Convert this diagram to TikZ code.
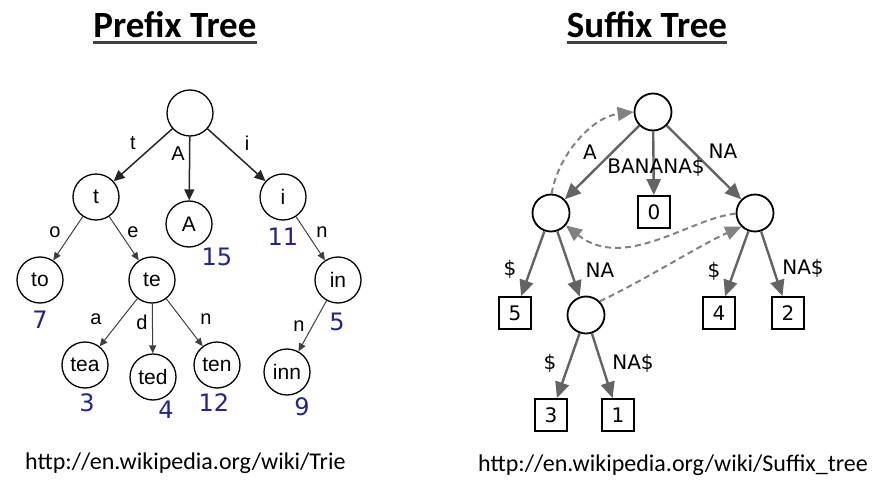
\documentclass[tikz,border=0pt]{standalone}
\usepackage{fontspec}
\setmainfont{DejaVu Sans}
\newfontfamily\calib{Carlito}
\newfontfamily\arialf{Liberation Sans}
\usetikzlibrary{arrows.meta}
\definecolor{numblue}{RGB}{35,35,140}
\definecolor{edgegray}{RGB}{100,100,100}
\definecolor{linkgray}{RGB}{130,130,130}
\begin{document}
\begin{tikzpicture}[x=1pt,y=-1pt,
 pnode/.style={circle,draw,line width=1.3pt,minimum size=46pt,inner sep=0pt,font=\arialf\fontsize{21}{21}\selectfont},
 pedge/.style={draw=black!85,line width=1.5pt,-{Triangle[length=11pt,width=10pt]}},
 pedgeb/.style={draw=black!75,line width=1pt,-{Triangle[length=8pt,width=7pt]}},
 plab/.style={font=\arialf\fontsize{20}{20}\selectfont,inner sep=0pt},
 pnum/.style={font=\fontsize{24}{24}\selectfont,text=numblue,inner sep=0pt},
 snode/.style={circle,draw,line width=1.8pt,minimum size=37pt,inner sep=0pt},
 sleaf/.style={rectangle,draw,line width=1.8pt,minimum size=32pt,inner sep=0pt,font=\fontsize{20}{20}\selectfont},
 sedge/.style={draw=edgegray,line width=2.4pt,-{Triangle[length=16pt,width=14pt]}},
 slab/.style={font=\fontsize{20}{20}\selectfont,inner sep=0pt},
 slink/.style={draw=linkgray,line width=2pt,dash pattern=on 6pt off 4pt,-{Triangle[length=16pt,width=14pt]}},
 title/.style={font=\calib\bfseries\fontsize{37}{37}\selectfont,anchor=base,inner sep=0pt},
 url/.style={font=\calib\fontsize{24}{24}\selectfont,anchor=base west,inner sep=0pt},
 uline/.style={line width=2.8pt,draw=black!75}
]
\useasboundingbox (0,0) rectangle (883,500);

% titles
\node[title] (pt) at (175,38) {Prefix Tree};
\node[title] (st) at (647,38) {Suffix Tree};
\draw[uline] ([yshift=-4.5pt]pt.base west) -- ([yshift=-4.5pt]pt.base east);
\draw[uline] ([yshift=-4.5pt]st.base west) -- ([yshift=-4.5pt]st.base east);

% URLs
\node[url] (u1) at (25,469) {http://en.wikipedia.org/wiki/Trie};
\node[url] (u2) at (478,471) {http://en.wikipedia.org/wiki/Suffix\_tree};

% prefix tree
\node[pnode] (r)   at (190,113) {};
\node[pnode] (t)   at (96,197) {t};
\node[pnode] (A)   at (189,224) {A};
\node[pnode] (i)   at (283,197) {i};
\node[pnode] (to)  at (40,280) {to};
\node[pnode] (te)  at (152,280) {te};
\node[pnode] (in)  at (338,280) {in};
\node[pnode] (tea) at (85,365) {tea};
\node[pnode] (ted) at (153,377) {ted};
\node[pnode] (ten) at (217,365) {ten};
\node[pnode] (inn) at (287,372) {inn};

\draw[pedge] (r) -- (t);
\draw[pedge] (r) -- (A);
\draw[pedge] (r) -- (i);
\draw[pedgeb] (t) -- (to);
\draw[pedgeb] (t) -- (te);
\draw[pedgeb] (i) -- (in);
\draw[pedgeb] (te) -- (tea);
\draw[pedgeb] (te) -- (ted);
\draw[pedgeb] (te) -- (ten);
\draw[pedgeb] (in) -- (inn);

\node[plab] (lt) at (133,143) {t};
\node[plab] (lA) at (178,154) {A};
\node[plab] (li) at (247,143) {i};
\node[plab] (lo) at (55,232) {o};
\node[plab] (le) at (133,232) {e};
\node[plab] (ln1) at (322,232) {n};
\node[plab] (la) at (96,319) {a};
\node[plab] (ld) at (142,322) {d};
\node[plab] (ln2) at (206,319) {n};
\node[plab] (ln3) at (299,326) {n};

\node[pnum] (n15) at (217,257) {15};
\node[pnum] (n11) at (283,237) {11};
\node[pnum] (n7)  at (40,320) {7};
\node[pnum] (n5)  at (337,322) {5};
\node[pnum] (n3)  at (87,403) {3};
\node[pnum] (n4)  at (166,410) {4};
\node[pnum] (n12) at (214,403) {12};
\node[pnum] (n9)  at (302,407) {9};

% suffix tree
\node[snode] (sr) at (653,112) {};
\node[snode] (sL) at (551,213) {};
\node[snode] (sR) at (755,213) {};
\node[sleaf] (b0) at (654,212) {0};
\node[sleaf] (b5) at (515,313) {5};
\node[snode] (sM) at (586,315) {};
\node[sleaf] (b4) at (719,313) {4};
\node[sleaf] (b2) at (788,313) {2};
\node[sleaf] (b3) at (551,415) {3};
\node[sleaf] (b1) at (618,415) {1};

\draw[sedge] (sr) -- (sL);
\draw[sedge] (sr) -- (b0);
\draw[sedge] (sr) -- (sR);
\draw[sedge] (sL) -- (b5);
\draw[sedge] (sL) -- (sM);
\draw[sedge] (sR) -- (b4);
\draw[sedge] (sR) -- (b2);
\draw[sedge] (sM) -- (b3);
\draw[sedge] (sM) -- (b1);

\draw[slink] (sL.88) .. controls (558,155) and (592,117) .. (sr.west);
\draw[slink] (sR.182) .. controls (690,218) and (625,272) .. (sL.-40);
\draw[slink] (sM.45) .. controls (645,280) and (700,245) .. (sR.-135);

\node[slab] (sA) at (590,152) {A};
\node[slab] (sB) at (656,167) {BANANA\$};
\node[slab] (sNA1) at (723,151) {NA};
\node[slab] (sd1) at (510,269) {\$};
\node[slab] (sNA2) at (600,270) {NA};
\node[slab] (sd2) at (714,271) {\$};
\node[slab] (sNA3) at (803,268) {NA\$};
\node[slab] (sd3) at (550,363) {\$};
\node[slab] (sNA4) at (633,363) {NA\$};
\end{tikzpicture}
\end{document}
